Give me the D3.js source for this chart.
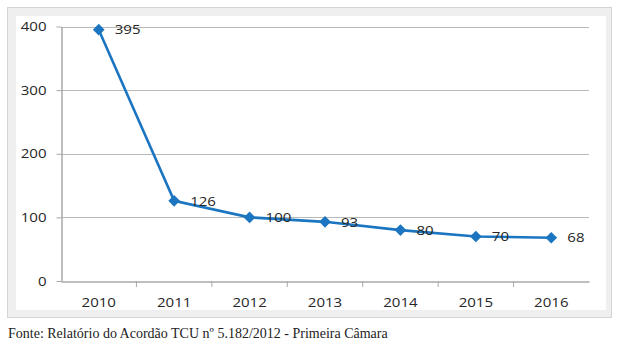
<!DOCTYPE html>
<html><head><meta charset="utf-8">
<script src="https://cdn.jsdelivr.net/npm/d3@7"></script>
<style>html,body{margin:0;padding:0;background:#fff;}svg{display:block;}</style>
</head><body>
<script>
const years = ["2010","2011","2012","2013","2014","2015","2016"];
const values = [395,126,100,93,80,70,68];
const yTicks = [0,100,200,300,400];
const source = "Fonte: Relatório do Acordão TCU nº 5.182/2012 - Primeira Câmara";

const W=620,H=346;
const svg=d3.select("body").append("svg").attr("width",W).attr("height",H);

// frame
svg.append("rect").attr("x",7.5).attr("y",7.5).attr("width",604).attr("height",310)
  .attr("fill","#efefef").attr("stroke","#d4d4d4").attr("stroke-width",1);
svg.append("rect").attr("x",16).attr("y",16).attr("width",590).attr("height",294).attr("fill","#fff");

const x=d3.scaleBand().domain(years).range([61,589]);
const y=d3.scaleLinear().domain([0,400]).range([281,26.5]);

const font="'Open Sans', sans-serif";
const stretch=8.6;

// gridlines
svg.append("g").selectAll("line").data(yTicks.filter(d=>d>0)).join("line")
  .attr("x1",61).attr("x2",589).attr("y1",d=>Math.round(y(d))+0.5).attr("y2",d=>Math.round(y(d))+0.5)
  .attr("stroke","#b9b9b9").attr("stroke-width",1);

// y axis
const ya=svg.append("g").attr("transform","translate(61.5,0)")
  .call(d3.axisLeft(y).tickValues(yTicks).tickSize(5).tickSizeOuter(0).tickPadding(10));
ya.select(".domain").attr("stroke","#a8a8a8").attr("stroke-width",1.5);
ya.selectAll(".tick line").attr("stroke","#a8a8a8");
ya.selectAll(".tick text").attr("font-family",font).attr("font-size",12).attr("fill","#262626")
  .attr("dy","0.35em")
  .attr("textLength",d=>String(d).length*stretch).attr("lengthAdjust","spacingAndGlyphs");

// x axis
const xa=svg.append("g").attr("transform","translate(0,281.5)")
  .call(d3.axisBottom(x).tickSize(0).tickPadding(17));
xa.select(".domain").attr("stroke","#a8a8a8").attr("stroke-width",1.5);
xa.selectAll(".tick text").attr("font-family",font).attr("font-size",12).attr("fill","#262626")
  .attr("textLength",d=>d.length*stretch).attr("lengthAdjust","spacingAndGlyphs");
// category boundary ticks
const bounds=years.slice(1).map(d=>x(d));
svg.append("g").selectAll("line").data(bounds).join("line")
  .attr("x1",d=>d).attr("x2",d=>d).attr("y1",281).attr("y2",287)
  .attr("stroke","#a8a8a8").attr("stroke-width",1);

const cx=d=>x(d)+x.bandwidth()/2;
const pts=years.map((d,i)=>({year:d,v:values[i]}));

svg.append("path").datum(pts)
  .attr("d",d3.line().x(d=>cx(d.year)).y(d=>y(d.v)))
  .attr("fill","none").attr("stroke","#1b75c0").attr("stroke-width",2.6);

svg.append("g").selectAll("path").data(pts).join("path")
  .attr("d",d3.symbol(d3.symbolSquare,68))
  .attr("transform",d=>`translate(${cx(d.year)},${y(d.v)}) rotate(45)`)
  .attr("fill","#1b75c0");

svg.append("g").selectAll("text").data(pts).join("text")
  .attr("x",d=>cx(d.year)+16).attr("y",d=>y(d.v)).attr("dy","0.38em")
  .attr("font-family",font).attr("font-size",12.5).attr("fill","#262626")
  .attr("textLength",d=>String(d.v).length*stretch).attr("lengthAdjust","spacingAndGlyphs")
  .text(d=>d.v);

svg.append("text").attr("x",8).attr("y",338).attr("font-family","'Liberation Serif', 'Times New Roman', serif")
  .attr("font-size",14).attr("fill","#222").text(source);
</script>
</body></html>
